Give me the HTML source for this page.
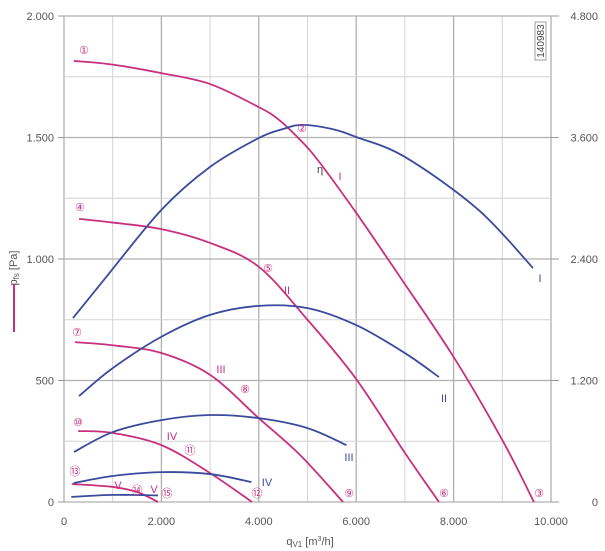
<!DOCTYPE html>
<html><head><meta charset="utf-8"><style>
body{margin:0;background:#fff;}
svg{display:block;font-family:"Liberation Sans",sans-serif;}
</style></head><body>
<svg id="c" width="605" height="551">
<g id="grid"></g>
<g id="axes"></g>
<g id="series"></g>
<g id="labels"></g>
<text x="17" y="268" transform="rotate(-90 17 268)" text-anchor="middle" font-size="11" fill="#555">p<tspan font-size="8" dy="2">fs</tspan><tspan dy="-2"> [Pa]</tspan></text>
<line x1="14" y1="284" x2="14" y2="332" stroke="#c8307e" stroke-width="2"/>
<text x="310" y="545" text-anchor="middle" font-size="11" fill="#555">q<tspan font-size="8" dy="2">V1</tspan><tspan dy="-2"> [m</tspan><tspan font-size="7" dy="-4">3</tspan><tspan dy="4">/h]</tspan></text>
<g><rect x="535" y="22" width="11" height="38" fill="none" stroke="#888" stroke-width="0.8"/><text x="544" y="41" transform="rotate(-90 544 41)" text-anchor="middle" font-size="10" fill="#444">140983</text></g>
</svg>
<script>
const xTicks=[0,2000,4000,6000,8000,10000];
const xTickLabels=["0","2.000","4.000","6.000","8.000","10.000"];
const yTicks=[0,500,1000,1500,2000];
const yTickLabels=["0","500","1.000","1.500","2.000"];
const y2Ticks=[0,1200,2400,3600,4800];
const y2TickLabels=["0","1.200","2.400","3.600","4.800"];
// pressure curves [q, Pa]
const pI=[[205,1815],[1000,1800],[2000,1765],[3000,1720],[4000,1625],[4400,1575],[4800,1500],[5200,1410],[6000,1190],[6900,926],[8000,597],[9000,255],[9650,0]];
const pII=[[308,1165],[1000,1150],[2000,1123],[3000,1066],[4000,968],[5000,750],[6000,506],[7000,202],[7700,0]];
const pIII=[[226,658],[1000,645],[2000,613],[3000,523],[4000,345],[4850,193],[5730,0]];
const pIV=[[292,292],[1000,284],[2000,234],[3000,119],[3860,0]];
const pV=[[160,74],[1000,62],[1500,41],[1930,0]];
// power curves [q, W]
const wI=[[185,1817],[820,2194],[2000,2885],[3000,3310],[4000,3595],[4500,3684],[4900,3725],[5500,3684],[6000,3605],[7000,3408],[8500,2890],[9630,2311]];
const wII=[[308,1046],[1000,1322],[2000,1632],[3000,1848],[4000,1937],[5000,1915],[6000,1747],[7000,1471],[7700,1234]];
const wIII=[[205,494],[1000,691],[2000,809],[3000,859],[4000,828],[5000,730],[5800,562]];
const wIV=[[200,187],[1000,257],[2000,295],[3000,276],[3850,197]];
const wV=[[150,50],[1000,70],[1930,65]];
const X0=64,X1=551,Y0=502,Y1=16;
const xs=q=>X0+(X1-X0)*q/10000;
const ys=p=>Y0-(Y0-Y1)*p/2000;
const ys2=w=>Y0-(Y0-Y1)*w/4800;
const NS="http://www.w3.org/2000/svg";
function mk(parent,tag,attrs){const e=document.createElementNS(NS,tag);for(const k in attrs)e.setAttribute(k,attrs[k]);document.getElementById(parent).appendChild(e);return e;}
for(let q=0;q<=10000;q+=1000){
 const l=mk('grid','line',{x1:xs(q),x2:xs(q),y1:Y1,y2:Y0,stroke:q%2000?'#d4d4d4':'#b0b0b0','stroke-width':q%2000?1:1.3});
 
 
}
for(let p=0;p<=2000;p+=250){
 const l=mk('grid','line',{x1:X0,x2:X1,y1:ys(p),y2:ys(p),stroke:p%500?'#d4d4d4':'#b0b0b0','stroke-width':p%500?1:1.3});
 
 
}
xTicks.forEach((q,i)=>{const t=mk('axes','text',{x:xs(q),y:525,'text-anchor':'middle','font-size':11,fill:'#555'});t.textContent=xTickLabels[i];
 
 });
yTicks.forEach((p,i)=>{const t=mk('axes','text',{x:54,y:ys(p)+4,'text-anchor':'end','font-size':11,fill:'#555'});t.textContent=yTickLabels[i];
 
 
 mk('axes','line',{x1:X0-6,x2:X0,y1:ys(p),y2:ys(p),stroke:'#999'});});
y2Ticks.forEach((w,i)=>{const t=mk('axes','text',{x:598,y:ys2(w)+4,'text-anchor':'end','font-size':11,fill:'#555'});t.textContent=y2TickLabels[i];
 
 
 mk('axes','line',{x1:X1,x2:X1+8,y1:ys2(w),y2:ys2(w),stroke:'#999'});});
function path(pts,fy){const P=pts.map(a=>[xs(a[0]),fy(a[1])]);
 let d='M'+P[0][0]+','+P[0][1];
 for(let i=0;i<P.length-1;i++){const p0=P[Math.max(0,i-1)],p1=P[i],p2=P[i+1],p3=P[Math.min(P.length-1,i+2)];
  const c1x=p1[0]+(p2[0]-p0[0])/6,c1y=p1[1]+(p2[1]-p0[1])/6,c2x=p2[0]-(p3[0]-p1[0])/6,c2y=p2[1]-(p3[1]-p1[1])/6;
  d+=` C${c1x},${c1y} ${c2x},${c2y} ${p2[0]},${p2[1]}`;}
 return d;}
[[pI,'pressure-curve-i'],[pII,'pressure-curve-ii'],[pIII,'pressure-curve-iii'],[pIV,'pressure-curve-iv'],[pV,'pressure-curve-v']].forEach(s=>{
 const e=mk('series','path',{d:path(s[0],ys),fill:'none',stroke:'#c8307e','stroke-width':1.8});
 
 });
[[wI,'power-curve-i'],[wII,'power-curve-ii'],[wIII,'power-curve-iii'],[wIV,'power-curve-iv'],[wV,'power-curve-v']].forEach(s=>{
 const e=mk('series','path',{d:path(s[0],ys2),fill:'none',stroke:'#3a4a9c','stroke-width':1.8});
 
 });
const circ=[["①",84,50],["②",302,128],["③",539,493],["④",80,207],["⑤",268,268],["⑥",444,493],["⑦",77,332],["⑧",245,389],["⑨",349,493],["⑩",78,422],["⑪",190,450],["⑫",257,493],["⑬",75,471],["⑭",137,490],["⑮",167,493]];
circ.forEach(c=>{const t=mk('labels','text',{x:c[1],y:c[2]+4,'text-anchor':'middle','font-size':11,fill:'#c8307e'});t.textContent=c[0];
 
 });
const rom=[["I",340,178,'#c8307e'],["II",287,292,'#c8307e'],["III",221,371,'#c8307e'],["IV",172,438,'#c8307e'],["V",118,487,'#c8307e'],["V",154,491,'#c8307e'],["I",540,280,'#3a4a9c'],["II",444,400,'#3a4a9c'],["III",349,459,'#3a4a9c'],["IV",267,484,'#3a4a9c'],["η",320,171,'#444']];
rom.forEach(c=>{const t=mk('labels','text',{x:c[1],y:c[2]+2,'text-anchor':'middle','font-size':11,fill:c[3]});t.textContent=c[0];
 
 });
</script>
</body></html>
